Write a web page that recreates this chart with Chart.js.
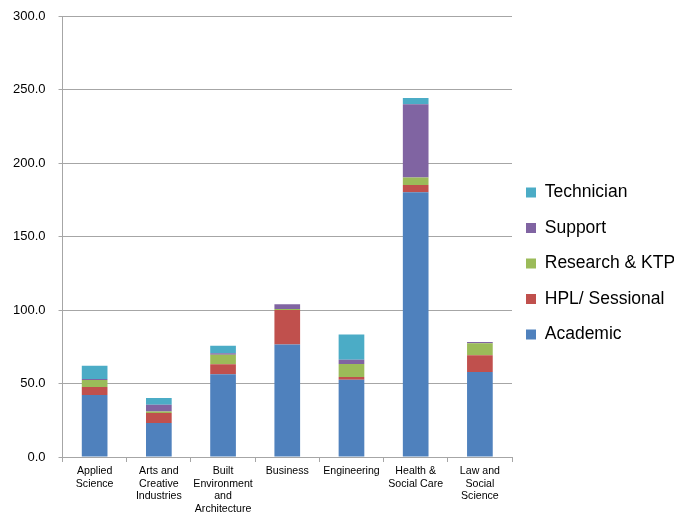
<!DOCTYPE html>
<html>
<head>
<meta charset="utf-8">
<script src="https://cdn.jsdelivr.net/npm/chart.js@4/dist/chart.umd.min.js"></script>
<style>
  html, body { margin: 0; padding: 0; background: #fff; overflow: hidden; }
  #wrap { width: 674px; height: 513px; position: relative; }
</style>
</head>
<body>
<div id="wrap"><canvas id="chart"></canvas></div>
<script>
// faculties along the x axis (multi-line labels as in the original)
const categories = [
  ['Applied', 'Science'],
  ['Arts and', 'Creative', 'Industries'],
  ['Built', 'Environment', 'and', 'Architecture'],
  ['Business'],
  ['Engineering'],
  ['Health &', 'Social Care'],
  ['Law and', 'Social', 'Science']
];

// staff numbers per group
const academic   = [42.1, 23.1, 56.3, 76.5, 52.5, 180.1, 57.9];
const hplSession = [5.6, 6.8, 6.8, 23.5, 2.0, 5.0, 11.3];
const research   = [4.6, 1.1, 6.4, 0.7, 8.8, 5.0, 8.2];
const support    = [0.7, 4.5, 1.1, 3.2, 2.8, 49.8, 0.9];
const technician = [9.0, 4.6, 5.0, 0, 17.2, 4.3, 0];

const yTicks = [0, 50, 100, 150, 200, 250, 300];

const GRID = '#a6a6a6';
Chart.defaults.font.family = '"Liberation Sans", Arial, sans-serif';
Chart.defaults.color = '#000';

const series = [
  { label: 'Academic', data: academic, color: '#4F81BD' },
  { label: 'HPL/ Sessional', data: hplSession, color: '#C0504D' },
  { label: 'Research & KTP', data: research, color: '#9BBB59' },
  { label: 'Support', data: support, color: '#8064A2' },
  { label: 'Technician', data: technician, color: '#4BACC6' }
];

// pin the legend width so the plot ends where the original does,
// then nudge the legend items a little to the left
const legendWidth = {
  id: 'legendWidth',
  beforeInit(chart) {
    const fit = chart.legend.fit;
    chart.legend.fit = function () { fit.call(this); this.width = 162; };
  },
  afterLayout(chart) {
    const lg = chart.legend;
    lg.left -= 4;
    lg.top -= 1;
    lg.bottom -= 1;
  }
};

new Chart(document.getElementById('chart'), {
  type: 'bar',
  data: {
    labels: categories,
    datasets: series.map(s => ({
      label: s.label,
      data: s.data,
      backgroundColor: s.color,
      borderWidth: 0,
      barPercentage: 0.4,
      categoryPercentage: 1
    }))
  },
  options: {
    responsive: true,
    maintainAspectRatio: false,
    animation: false,
    layout: { padding: { left: 0, top: 16, right: 0, bottom: 0 } },
    plugins: {
      tooltip: { enabled: false },
      legend: {
        position: 'right',
        reverse: true,
        labels: {
          boxWidth: 10, boxHeight: 10, padding: 18,
          font: { size: 17.5 }, color: '#000'
        }
      }
    },
    scales: {
      x: {
        stacked: true,
        border: { color: GRID, width: 1 },
        grid: { display: true, drawOnChartArea: false, offset: true, tickLength: 5, color: GRID },
        ticks: { font: { size: 10.6, lineHeight: '12.5px' }, padding: 3, maxRotation: 0, autoSkip: false },
        afterFit: axis => { axis.height -= 5; }
      },
      y: {
        stacked: true,
        min: 0, max: 300,
        afterBuildTicks: axis => { axis.ticks = yTicks.map(v => ({ value: v })); },
        afterFit: axis => { axis.paddingTop = 0; },
        border: { color: GRID, width: 1 },
        grid: { color: GRID, tickLength: 4 },
        ticks: { font: { size: 13 }, padding: 13, callback: v => v.toFixed(1) }
      }
    }
  },
  plugins: [legendWidth]
});
</script>
</body>
</html>
